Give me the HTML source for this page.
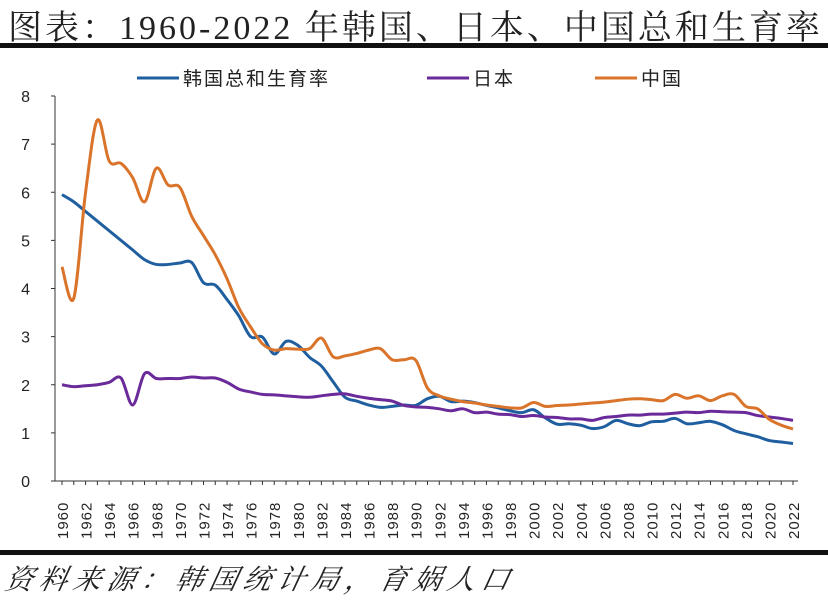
<!DOCTYPE html>
<html><head><meta charset="utf-8"><style>
body{margin:0;background:#fff;width:828px;height:601px;overflow:hidden;position:relative;font-family:"Liberation Sans","Noto Sans CJK SC",sans-serif}
#title{position:absolute;left:8px;top:0px;font-family:"Liberation Serif","Noto Serif CJK SC",serif;font-size:34px;letter-spacing:3px;color:#222;white-space:nowrap}
.rule{position:absolute;left:0;width:828px;background:#111}
#src{position:absolute;left:6px;top:558px;font-size:28px;font-style:italic;color:#222;font-family:"Liberation Serif","Noto Serif CJK SC",serif;transform:skewX(-12deg);letter-spacing:6px;white-space:nowrap}
</style></head><body>
<div id="title">图表：1960-2022 年韩国、日本、中国总和生育率</div>
<div class="rule" style="top:43px;height:5px"></div>
<div class="rule" style="top:550px;height:5px"></div>
<div id="src">资料来源：韩国统计局，育娲人口</div>
<svg id="chart" width="828" height="601" style="position:absolute;left:0;top:0"></svg>
<script>
const years=[];for(let y=1960;y<=2022;y++)years.push(y);
const korea=[5.95,5.8,5.6,5.4,5.2,5.0,4.8,4.6,4.5,4.5,4.53,4.54,4.12,4.07,3.77,3.43,3.0,2.99,2.64,2.9,2.82,2.57,2.39,2.06,1.74,1.66,1.58,1.53,1.55,1.58,1.57,1.71,1.76,1.65,1.66,1.63,1.57,1.52,1.46,1.42,1.48,1.31,1.18,1.19,1.16,1.09,1.13,1.26,1.19,1.15,1.23,1.24,1.30,1.19,1.21,1.24,1.17,1.05,0.98,0.92,0.84,0.81,0.78];
const japan=[2.0,1.96,1.98,2.0,2.05,2.14,1.58,2.23,2.13,2.13,2.13,2.16,2.14,2.14,2.05,1.91,1.85,1.80,1.79,1.77,1.75,1.74,1.77,1.80,1.81,1.76,1.72,1.69,1.66,1.57,1.54,1.53,1.50,1.46,1.50,1.42,1.43,1.39,1.38,1.34,1.36,1.33,1.32,1.29,1.29,1.26,1.32,1.34,1.37,1.37,1.39,1.39,1.41,1.43,1.42,1.45,1.44,1.43,1.42,1.36,1.33,1.30,1.26];
const china=[4.45,3.8,6.0,7.5,6.65,6.6,6.3,5.8,6.5,6.15,6.1,5.5,5.1,4.7,4.2,3.6,3.2,2.85,2.72,2.75,2.74,2.75,2.97,2.58,2.6,2.65,2.72,2.75,2.52,2.52,2.51,1.93,1.77,1.7,1.65,1.62,1.58,1.55,1.52,1.52,1.63,1.55,1.57,1.58,1.6,1.62,1.64,1.67,1.7,1.71,1.69,1.67,1.8,1.72,1.77,1.67,1.77,1.8,1.55,1.5,1.28,1.16,1.08];
const yTicks=[0,1,2,3,4,5,6,7,8];
const seriesNames=["韩国总和生育率","日本","中国"];
const NS="http://www.w3.org/2000/svg",svg=document.getElementById('chart');
const X0=62,X1=793,Y0=481,Y1=96;
const xs=y=>X0+(y-1960)*(X1-X0)/62, ys=v=>Y0-v*(Y0-Y1)/8;
function el(t,a,p){const e=document.createElementNS(NS,t);for(const k in a)e.setAttribute(k,a[k]);(p||svg).appendChild(e);return e;}
const ax=el('line',{x1:55,y1:Y1,x2:55,y2:Y0,stroke:'#333','stroke-width':1});


const xa=el('line',{x1:55,y1:Y0,x2:X1+5,y2:Y0,stroke:'#333','stroke-width':1});


yTicks.forEach(v=>{el('line',{x1:51,y1:ys(v),x2:55,y2:ys(v),stroke:'#333'});
const t=el('text',{x:30,y:ys(v)+6,'font-size':16,fill:'#222','text-anchor':'end'});t.textContent=v;

});
years.forEach(y=>{el('line',{x1:xs(y),y1:Y0,x2:xs(y),y2:Y0+4,stroke:'#333'});
if((y-1960)%2===0){const t=el('text',{transform:`translate(${xs(y)+6},${Y0+58}) rotate(-90)`,'font-size':15,fill:'#222','letter-spacing':1});t.textContent=y;

}});
function path(arr){const p=arr.map((v,i)=>[xs(years[i]),ys(v)]);let d=`M${p[0][0]},${p[0][1]}`;
for(let i=0;i<p.length-1;i++){const a=p[Math.max(0,i-1)],b=p[i],c=p[i+1],e=p[Math.min(p.length-1,i+2)];
d+=`C${b[0]+(c[0]-a[0])/6},${b[1]+(c[1]-a[1])/6} ${c[0]-(e[0]-b[0])/6},${c[1]-(e[1]-b[1])/6} ${c[0]},${c[1]}`;}return d;}
const cols=['#1f5fa0','#6a2a9a','#d9742a'];
[korea,japan,china].forEach((s,i)=>{const l=el('path',{d:path(s),fill:'none',stroke:cols[i],'stroke-width':3});

});
const lx=[137,427,595];
seriesNames.forEach((n,i)=>{const g=el('g',{});


el('line',{x1:lx[i],y1:78,x2:lx[i]+42,y2:78,stroke:cols[i],'stroke-width':3},g);
const t=el('text',{x:lx[i]+46,y:85,'font-size':19,fill:'#222','letter-spacing':2},g);t.textContent=n;});
</script>
</body></html>
